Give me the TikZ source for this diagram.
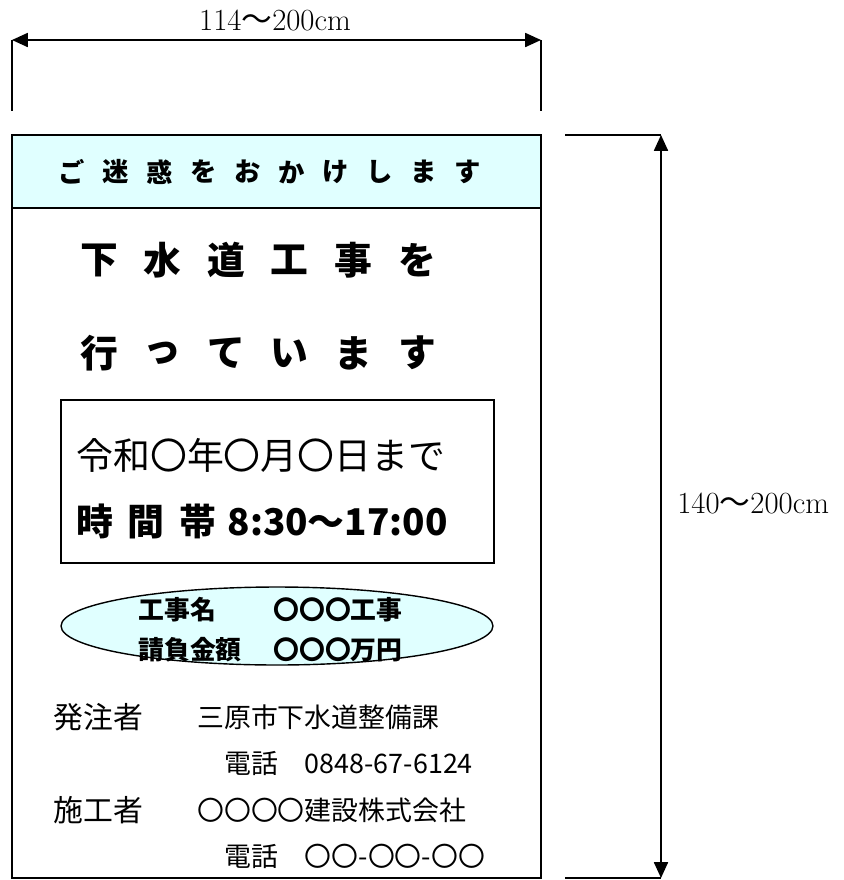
\documentclass[tikz,border=0pt]{standalone}
\usepackage{fontspec}
\newfontfamily\cjk{Noto Sans CJK JP}
\usetikzlibrary{arrows.meta,shapes.geometric}
\definecolor{paleblue}{RGB}{224,255,255}

\begin{document}
\begin{tikzpicture}[x=0.02cm, y=-0.02cm,
    dim/.style={line width=0.9pt,
        {Triangle[length=9pt,width=8pt]}-{Triangle[length=9pt,width=8pt]}},
    tick/.style={line width=0.9pt},
    dimlabel/.style={font=\fontsize{17.5}{20}\selectfont, inner sep=0pt},
    title/.style={font=\cjk\bfseries\fontsize{15}{18}\selectfont, inner sep=0pt},
    big/.style={font=\cjk\bfseries\fontsize{21.5}{25}\selectfont, inner sep=0pt},
    until/.style={font=\cjk\fontsize{21}{25}\selectfont, inner sep=0pt, anchor=west},
    hours/.style={font=\cjk\bfseries\fontsize{21}{25}\selectfont, inner sep=0pt, anchor=west},
    job/.style={font=\cjk\bfseries\fontsize{14.7}{17}\selectfont, inner sep=0pt, anchor=west},
    role/.style={font=\cjk\fontsize{17}{20}\selectfont, inner sep=0pt, anchor=west},
    info/.style={font=\cjk\fontsize{15.3}{18}\selectfont, inner sep=0pt, anchor=west}]
    \useasboundingbox (0,0) rectangle (844,880);
    % the sign
    \node[draw, line width=1.1pt, outer sep=0pt, minimum width=10.58cm,
        minimum height=14.86cm] (sign) at (276.5,506.5) {};
    \node[draw, fill=paleblue, line width=1.1pt, outer sep=0pt, minimum width=10.58cm,
        minimum height=1.46cm] (band) at (276.5,171.5) {};
    \foreach \c [count=\i from 0] in {ご,迷,惑,を,お,か,け,し,ま,す}
        \node[title] (t\i) at (72+\i*44,172) {\c};
    \foreach \c [count=\i from 0] in {下,水,道,工,事,を}
        \node[big] (a\i) at (99+\i*63.6,260) {\c};
    \foreach \c [count=\i from 0] in {行,っ,て,い,ま,す}
        \node[big] (b\i) at (99+\i*63.6,353) {\c};
    \node[draw, line width=0.8pt, minimum width=8.66cm, minimum height=3.26cm]
        (period) at (277.5,481.5) {};
    \node[until] (date) at (76,455) {令和〇年〇月〇日まで};
    \node[hours] (time) at (76,521) {時\kern0.4em 間\kern0.4em 帯\kern0.3em 8:30～17:00};
    \node[ellipse, draw, fill=paleblue, line width=0.8pt, minimum width=8.64cm,
        minimum height=1.56cm, inner sep=0pt] (work) at (277,626) {};
    \node[job] (wname) at (138,610) {工事名};
    \node[job] (wval) at (273,610) {〇〇〇工事};
    \node[job] (pname) at (138,650) {請負金額};
    \node[job] (pval) at (273,650) {〇〇〇万円};
    \node[role] (orderer) at (53,717) {発注者};
    \node[info] (oname) at (197,717) {三原市下水道整備課};
    \node[info] (otel) at (224,763) {電話　0848-67-6124};
    \node[role] (builder) at (53,810) {施工者};
    \node[info] (bname) at (197,810) {〇〇〇〇建設株式会社};
    \node[info] (btel) at (224,856) {電話　〇〇-〇〇-〇〇};
    % width
    \coordinate (wl) at (12,40);
    \coordinate (wr) at (541,40);
    \coordinate (wl0) at (12,111);
    \coordinate (wr0) at (541,111);
    \draw[tick] (wl) -- (wl0);
    \draw[tick] (wr) -- (wr0);
    \draw[dim] (wl) -- (wr);
    \node[dimlabel] (wlab) at (275,20) {114{\cjk ～}200cm};
    % height
    \coordinate (ht) at (661,135);
    \coordinate (hb) at (661,878);
    \coordinate (ht0) at (565,135);
    \coordinate (hb0) at (565,878);
    \draw[tick] (ht0) -- (ht);
    \draw[tick] (hb0) -- (hb);
    \draw[dim] (ht) -- (hb);
    \node[dimlabel, anchor=west] (hlab) at (677,503) {140{\cjk ～}200cm};
\end{tikzpicture}
\end{document}
